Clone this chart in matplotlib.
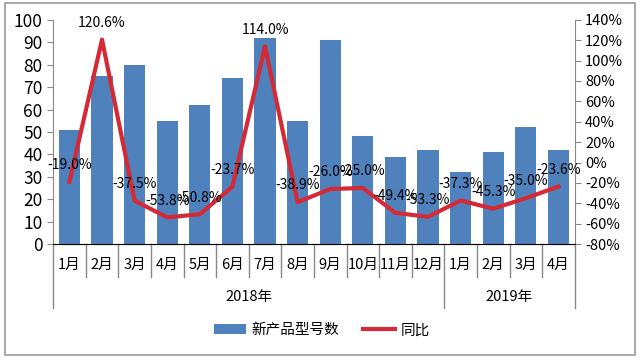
import numpy as np
import matplotlib.pyplot as plt
from matplotlib.patches import Rectangle
from matplotlib.lines import Line2D

plt.rcParams['font.family'] = ['Noto Sans CJK SC', 'DejaVu Sans']

months = ["1月", "2月", "3月", "4月", "5月", "6月", "7月", "8月", "9月", "10月", "11月", "12月",
          "1月", "2月", "3月", "4月"]
years = ["2018年", "2019年"]
year_counts = [12, 4]
models = np.array([51, 75, 80, 55, 62, 74, 92, 55, 91, 48, 39, 42, 32, 41, 52, 42])
yoy = np.array([-19.0, 120.6, -37.5, -53.8, -50.8, -23.7, 114.0, -38.9, -26.0, -25.0,
                -49.4, -53.3, -37.3, -45.3, -35.0, -23.6])

fig = plt.figure(figsize=(6.4, 3.61), dpi=100)
ax = fig.add_axes([0.083, 0.324, 0.815, 0.621])
ax2 = ax.twinx()

x = np.arange(len(months))
ax.bar(x, models, width=0.65, color="#4F81BD", zorder=2, label="新产品型号数")
ax2.plot(x, yoy, color="#D42A35", lw=3, zorder=3, label="同比")
for xi, v in zip(x, yoy):
    ax2.annotate(f"{v:.1f}%", (xi, v), xytext=(0, 7), textcoords="offset points",
                 ha="center", va="bottom", fontsize=10)

ax.set_xlim(-0.5, len(months) - 0.5)
ax.set_ylim(0, 100)
ax.set_yticks(np.arange(0, 101, 10))
ax2.set_ylim(-80, 140)
ax2.set_yticks(np.arange(-80, 141, 20))
ax2.set_yticklabels([f"{t}%" for t in range(-80, 141, 20)])
ax.set_xticks([])
ax.tick_params(axis="y", labelsize=12.5, length=4, color="#888888")
ax2.tick_params(axis="y", labelsize=10.5, length=4, color="#888888")
for a in (ax, ax2):
    a.spines["top"].set_visible(False)
ax.spines["right"].set_visible(False)
ax2.spines["left"].set_visible(False)
ax.spines["left"].set_color("#888888")
ax2.spines["right"].set_color("#888888")
ax.spines["bottom"].set_color("#888888")

# category axis with grouped labels
trans = ax.get_xaxis_transform()
n = len(months)
for i, m in enumerate(months):
    ax.text(i, -0.095, m, transform=trans, ha="center", va="center", fontsize=10.5)
bounds = np.cumsum([0] + year_counts)
for b in range(n + 1):
    lo = -0.286 if b in bounds else -0.147
    ax.add_line(Line2D([b - 0.5, b - 0.5], [0, lo], transform=trans, color="#888888",
                       lw=1, clip_on=False))
for yr, s, c in zip(years, bounds[:-1], year_counts):
    ax.text(s + c / 2 - 0.5, -0.235, yr, transform=trans, ha="center", va="center", fontsize=10.5)

h1, l1 = ax.get_legend_handles_labels()
h2, l2 = ax2.get_legend_handles_labels()
fig.legend(h1 + h2, l1 + l2, loc="center", bbox_to_anchor=(0.503, 0.085), ncol=2,
           frameon=False, fontsize=10.5, handlelength=2.2, columnspacing=1.6,
           handletextpad=0.4)

fig.patches.append(Rectangle((0.008, 0.017), 0.984, 0.974, transform=fig.transFigure,
                             fill=False, edgecolor="#999999", lw=1.2))

fig.savefig("out.png", dpi=100)
